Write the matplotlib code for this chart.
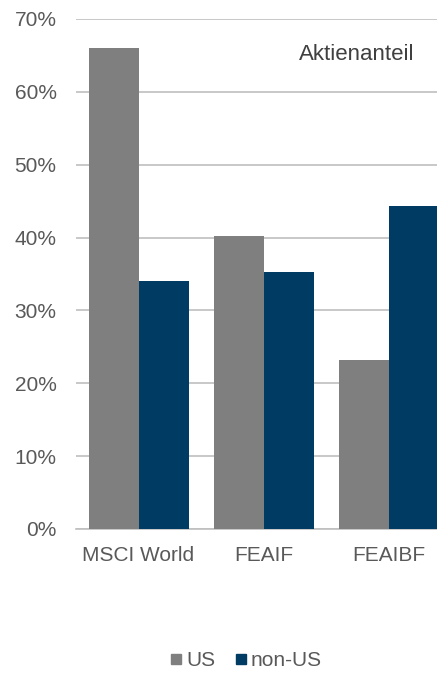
import matplotlib
matplotlib.use("Agg")
import matplotlib.pyplot as plt
from matplotlib.lines import Line2D
import numpy as np

# Daten (Aktienanteil in %)
categories = ["MSCI World", "FEAIF", "FEAIBF"]
us = [66.0, 40.2, 23.2]
non_us = [34.1, 35.3, 44.4]
series_names = ["US", "non-US"]

GRAY = "#7f7f7f"
NAVY = "#003b64"
TXT = "#595959"
GRID = "#bfbfbf"

plt.rcParams["font.family"] = ["Liberation Sans", "DejaVu Sans"]

fig = plt.figure(figsize=(4.37, 6.74), dpi=100)
ax = fig.add_axes([76 / 437, 1 - 529 / 674, 375 / 437, 510 / 674])

x = np.arange(len(categories))
w = 0.4
ax.bar(x - w / 2, us, w, color=GRAY, zorder=3)
ax.bar(x + w / 2, non_us, w, color=NAVY, zorder=3)

ax.set_xlim(-0.5, len(categories) - 0.5)
ax.set_ylim(0, 70)
ax.set_yticks(np.arange(0, 71, 10))
ax.set_yticklabels([f"{v}%" for v in range(0, 71, 10)])
ax.set_xticks(x)
ax.set_xticklabels(categories)

ax.grid(axis="y", color=GRID, linewidth=1.2, zorder=0)
for s in ["top", "right", "left"]:
    ax.spines[s].set_visible(False)
ax.spines["bottom"].set_color(GRID)
ax.spines["bottom"].set_linewidth(1.2)
ax.tick_params(axis="both", length=0, labelsize=15, colors=TXT)
ax.tick_params(axis="y", pad=14)
ax.tick_params(axis="x", pad=12)

fig.text(357 / 437, 1 - 54 / 674, "Aktienanteil", ha="center", va="center",
         fontsize=16, color="#404040")

handles = [Line2D([], [], marker="s", linestyle="", color=c, markersize=7.5)
           for c in (GRAY, NAVY)]
fig.legend(handles, series_names, loc="center", bbox_to_anchor=(246 / 437, 1 - 661 / 674),
           ncol=2, frameon=False, fontsize=15, labelcolor=TXT,
           handlelength=0.6, handletextpad=0.2, columnspacing=0.9,
           borderpad=0.1)

fig.savefig("out.png", dpi=100)
